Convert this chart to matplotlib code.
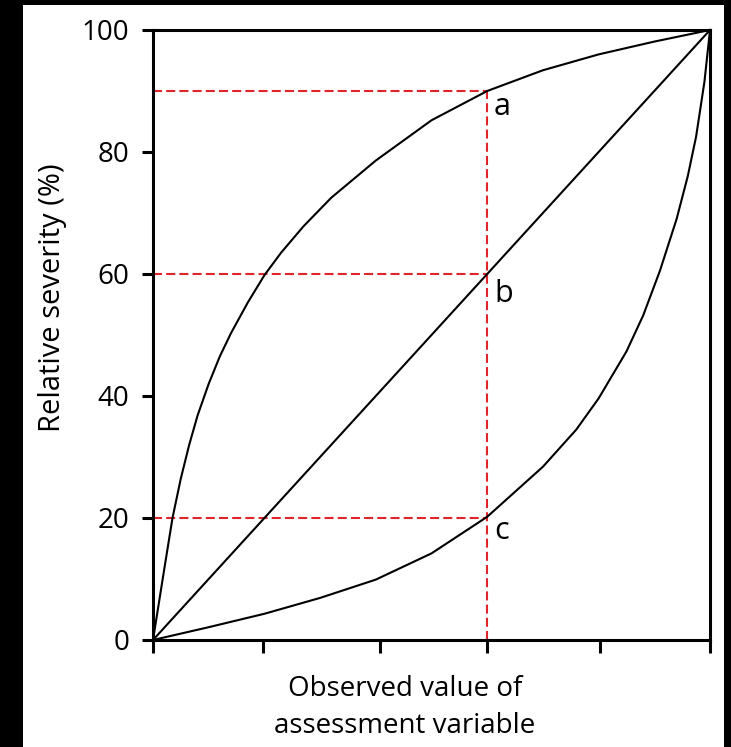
import matplotlib
matplotlib.use('Agg')
import matplotlib.pyplot as plt
from matplotlib.patches import Rectangle

plt.rcParams['font.family'] = ['Open Sans', 'DejaVu Sans']
plt.rcParams['lines.scale_dashes'] = False

# curve a (concave)
x_a = [0, 0.02, 0.035, 0.05, 0.065, 0.08, 0.10, 0.12, 0.14, 0.17, 0.20,
       0.23, 0.27, 0.32, 0.40, 0.50, 0.60, 0.70, 0.80, 0.90, 1.0]
y_a = [0, 11.5, 20, 26.5, 32, 36.8, 42, 46.5, 50.3, 55.3, 59.8,
       63.5, 67.8, 72.5, 78.6, 85.2, 90, 93.4, 96, 98.1, 100]

# curve b (linear)
x_b = [0, 1.0]
y_b = [0, 100]

# curve c (convex)
x_c = [0, 0.1, 0.2, 0.3, 0.4, 0.5, 0.6, 0.7, 0.76, 0.8, 0.85, 0.88,
       0.91, 0.94, 0.96, 0.975, 0.99, 1.0]
y_c = [0, 2.1, 4.3, 6.9, 9.9, 14.2, 20.2, 28.4, 34.5, 39.6, 47.3, 53.2,
       60.5, 69, 76, 82.5, 91.5, 100]

x_mark = 0.6
y_marks = [90, 60, 20]
point_labels = ['a', 'b', 'c']

x_ticks = [0, 0.197, 0.407, 0.6, 0.803, 1.0]
y_ticks = [0, 20, 40, 60, 80, 100]

red = '#e0252a'

fig = plt.figure(figsize=(7.31, 7.47), dpi=100, facecolor='black')
fig.patches.append(Rectangle((23/731, 0), (724-23)/731, (747-5)/747,
                             transform=fig.transFigure, facecolor='white',
                             edgecolor='none', zorder=-5))
ax = fig.add_axes([153/731, 107/747, 557/731, 610/747])
ax.set_zorder(2)

# red dashed guides
for y in y_marks:
    ax.plot([0, x_mark], [y, y], color=red, lw=1.5, dashes=(6.5, 3), zorder=2)
ax.plot([x_mark, x_mark], [0, max(y_marks)], color=red, lw=1.5, dashes=(6.5, 3), zorder=2)

for xs, ys in [(x_a, y_a), (x_b, y_b), (x_c, y_c)]:
    ax.plot(xs, ys, color='black', lw=1.5, zorder=3, clip_on=False,
            solid_joinstyle='round')

label_y = [87.3, 56.8, 17.8]
for lab, y in zip(point_labels, label_y):
    ax.text(x_mark + 0.012, y, lab, fontsize=22, ha='left', va='center')

ax.set_xlim(0, 1)
ax.set_ylim(0, 100)
ax.set_xticks(x_ticks)
ax.set_xticklabels([])
ax.set_yticks(y_ticks)
ax.tick_params(axis='both', direction='out', length=8, width=2.2, labelsize=20,
               colors='black', pad=9)
ax.tick_params(axis='x', length=9, pad=2)
for s in ax.spines.values():
    s.set_linewidth(2.2)
    s.set_color('black')

ax.set_ylabel('Relative severity (%)', fontsize=21)
ax.yaxis.set_label_coords(-0.155, 0.561)
ax.set_xlabel('Observed value of\nassessment variable', fontsize=20,
              linespacing=1.4)
ax.xaxis.set_label_coords(0.452, -0.058)

fig.savefig('out.png', dpi=100, facecolor=fig.get_facecolor())
